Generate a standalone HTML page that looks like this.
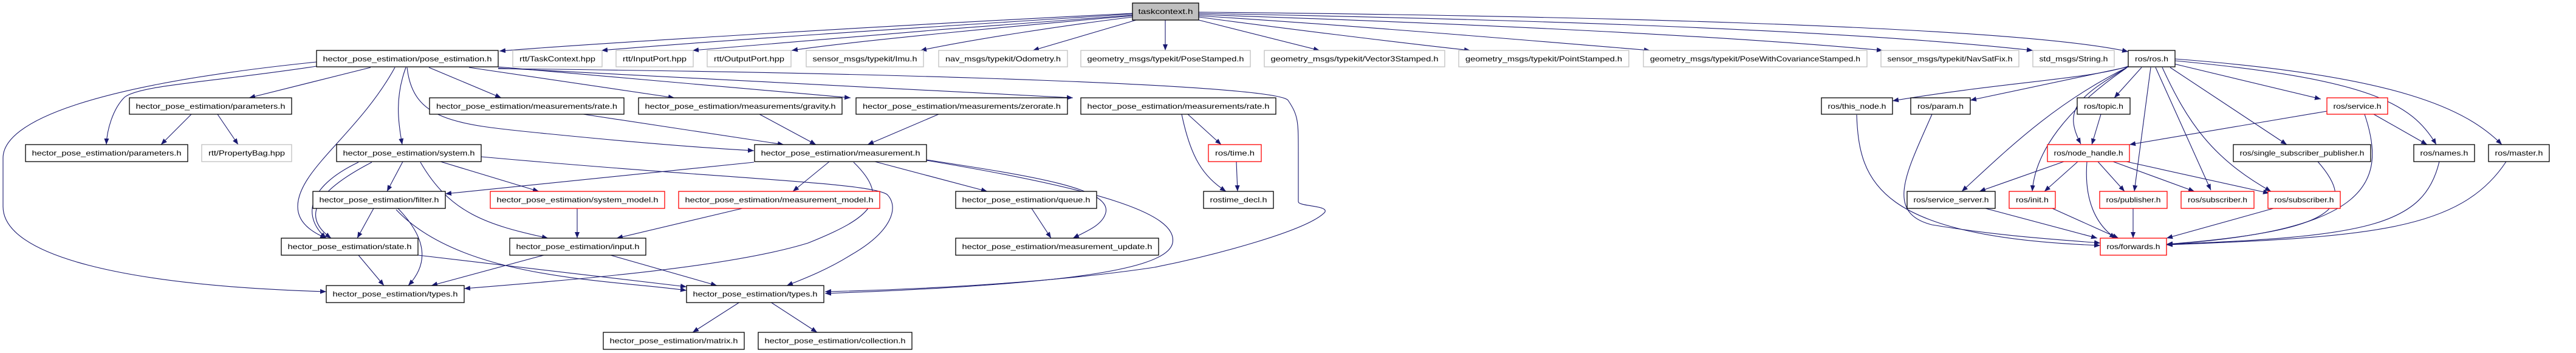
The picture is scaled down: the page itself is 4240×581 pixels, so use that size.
<!DOCTYPE html>
<html><head><meta charset="utf-8"><style>
html,body{margin:0;padding:0;background:#fff;width:4240px;height:581px;overflow:hidden}
svg{display:block}
text{font-family:"Liberation Sans",sans-serif;font-size:12px;fill:#000}
.n{fill:#fff;stroke:#000;stroke-width:1.3}
.g{fill:#fff;stroke:#c0c0c0;stroke-width:1.3}
.r{fill:#fff;stroke:#ff0000;stroke-width:1.3}
.e{fill:none;stroke:#191970;stroke-width:1.1;marker-end:url(#a)}
</style></head><body>
<svg width="4240" height="581" viewBox="0 0 4240 581" xmlns="http://www.w3.org/2000/svg">
<defs><marker id="a" markerUnits="userSpaceOnUse" markerWidth="10" markerHeight="8" refX="10" refY="4" orient="auto"><path d="M0,0 L10,4 L0,8 z" fill="#191970"/></marker></defs>
<g>
<!-- taskcontext edges -->
<path class="e" d="M1864,22 C1500,40 1000,70 822,84"/>
<path class="e" d="M1864,23 C1600,40 1200,65 990,83"/>
<path class="e" d="M1864,25 C1650,40 1300,68 1140,83"/>
<path class="e" d="M1864,26 C1700,40 1400,68 1303,83"/>
<path class="e" d="M1864,28 C1750,42 1600,65 1515,83"/>
<path class="e" d="M1870,33 L1700,83"/>
<path class="e" d="M1918,33 L1918,83"/>
<path class="e" d="M1973,33 L2172,83"/>
<path class="e" d="M1973,28 C2100,45 2300,70 2420,83"/>
<path class="e" d="M1973,26 C2200,40 2500,65 2716,83"/>
<path class="e" d="M1973,24 C2300,35 2800,55 3099,83"/>
<path class="e" d="M1973,22 C2400,30 3000,45 3346,83"/>
<path class="e" d="M1973,20 C2500,25 3300,40 3503,85"/>
<!-- pose_estimation edges -->
<path class="e" d="M610,111 L410,161"/>
<path class="e" d="M521,109 C350,135 230,140 205,160 C185,180 176,215 175,238"/>
<path class="e" d="M521,102 C150,140 5,200 5,260 L5,340 C5,420 200,470 537,480"/>
<path class="e" d="M650,111 C590,220 490,280 490,340 C490,370 520,385 537,392"/>
<path class="e" d="M668,111 C650,160 655,200 662,238"/>
<path class="e" d="M670,111 C680,200 750,205 900,220 C1050,235 1150,243 1241,248"/>
<path class="e" d="M706,111 L825,161"/>
<path class="e" d="M772,111 L1110,161"/>
<path class="e" d="M820,110 L1400,161"/>
<path class="e" d="M820,112 L1766,161"/>
<path class="e" d="M820,113 C1500,120 2100,140 2120,165 C2137,190 2137,200 2137,250 L2137,332 C2137,340 2190,338 2180,350 C2150,380 2000,420 1900,440 C1700,470 1450,478 1358,480"/>
<path class="e" d="M315,188 L265,238"/>
<path class="e" d="M358,188 L392,238"/>
<path class="e" d="M960,188 L1290,238"/>
<path class="e" d="M1250,188 L1343,238"/>
<path class="e" d="M1545,188 L1428,238"/>
<path class="e" d="M1955,188 L2010,238"/>
<path class="e" d="M1945,188 C1960,260 1980,290 2018,315"/>
<path class="e" d="M2035,266 L2037,315"/>
<!-- system -->
<path class="e" d="M663,266 L637,315"/>
<path class="e" d="M725,266 L887,315"/>
<path class="e" d="M692,267 C740,350 800,370 902,392"/>
<path class="e" d="M590,267 C500,310 500,360 537,392"/>
<path class="e" d="M612,267 C510,320 500,360 545,392"/>
<path class="e" d="M792,258 C1200,295 1430,300 1460,320 C1480,340 1470,380 1400,420 C1360,445 1320,460 1295,470"/>
<!-- measurement -->
<path class="e" d="M1241,267 L733,319"/>
<path class="e" d="M1365,266 L1305,315"/>
<path class="e" d="M1440,266 L1625,315"/>
<path class="e" d="M1525,263 C1700,290 1830,310 1820,350 C1815,370 1790,380 1766,392"/>
<path class="e" d="M1525,264 C1800,310 1940,350 1930,400 C1920,450 1700,470 1358,483"/>
<path class="e" d="M1405,267 C1470,330 1430,360 1330,400 C1200,440 950,460 764,475"/>
<path class="e" d="M1698,343 L1730,392"/>
<!-- filter etc -->
<path class="e" d="M615,343 L588,392"/>
<path class="e" d="M655,343 C710,400 700,440 672,470"/>
<path class="e" d="M652,345 C760,460 1000,460 1130,478"/>
<path class="e" d="M950,343 L950,392"/>
<path class="e" d="M1222,343 L1015,392"/>
<path class="e" d="M590,420 L632,470"/>
<path class="e" d="M688,420 L1130,472"/>
<path class="e" d="M895,420 L710,470"/>
<path class="e" d="M1005,420 L1180,470"/>
<path class="e" d="M1218,497 L1140,547"/>
<path class="e" d="M1268,497 L1345,547"/>
<!-- ros -->
<path class="e" d="M3503,109 C3440,130 3300,135 3115,166"/>
<path class="e" d="M3503,110 L3243,165"/>
<path class="e" d="M3525,111 L3480,161"/>
<path class="e" d="M3578,105 L3820,163"/>
<path class="e" d="M3501,111 C3420,160 3395,180 3425,237"/>
<path class="e" d="M3503,110 C3380,170 3300,250 3229,315"/>
<path class="e" d="M3500,112 C3400,180 3350,250 3345,315"/>
<path class="e" d="M3540,111 L3513,315"/>
<path class="e" d="M3548,111 L3639,313"/>
<path class="e" d="M3559,111 C3600,200 3640,260 3738,315"/>
<path class="e" d="M3572,111 L3764,238"/>
<path class="e" d="M3580,100 C3900,130 3970,170 4010,238"/>
<path class="e" d="M3580,97 C3950,125 4060,180 4118,238"/>
<path class="e" d="M3056,189 C3060,300 3090,390 3457,404"/>
<path class="e" d="M3180,188 C3140,280 3100,350 3180,370 C3300,390 3400,395 3457,400"/>
<path class="e" d="M3458,188 L3443,238"/>
<path class="e" d="M3830,183 L3505,238"/>
<path class="e" d="M3892,188 C3930,300 3900,380 3566,402"/>
<path class="e" d="M3907,188 L3995,238"/>
<path class="e" d="M3397,266 L3258,315"/>
<path class="e" d="M3420,266 L3365,315"/>
<path class="e" d="M3435,266 C3430,330 3450,370 3482,392"/>
<path class="e" d="M3453,266 L3497,315"/>
<path class="e" d="M3478,266 L3612,315"/>
<path class="e" d="M3500,266 L3735,318"/>
<path class="e" d="M3268,343 L3452,392"/>
<path class="e" d="M3378,343 L3487,392"/>
<path class="e" d="M3511,343 L3511,392"/>
<path class="e" d="M3742,343 L3566,392"/>
<path class="e" d="M3815,266 C3880,340 3850,380 3566,402"/>
<path class="e" d="M4015,266 C3990,370 3900,390 3566,402"/>
<path class="e" d="M4125,266 C4050,380 3900,390 3566,403"/>
</g>
<!-- nodes -->
<rect x="1864" y="5" width="109" height="28" fill="#bfbfbf" stroke="#000" stroke-width="1.3"/><text x="1918.5" y="23" text-anchor="middle" textLength="90" lengthAdjust="spacingAndGlyphs">taskcontext.h</text>

<rect class="n" x="521" y="83" width="299" height="27"/><text x="670.5" y="101" text-anchor="middle" textLength="278" lengthAdjust="spacingAndGlyphs">hector_pose_estimation/pose_estimation.h</text>
<rect class="g" x="844" y="83" width="147" height="27"/><text x="917.5" y="101" text-anchor="middle" textLength="125" lengthAdjust="spacingAndGlyphs">rtt/TaskContext.hpp</text>
<rect class="g" x="1014" y="83" width="127" height="27"/><text x="1077.5" y="101" text-anchor="middle" textLength="105" lengthAdjust="spacingAndGlyphs">rtt/InputPort.hpp</text>
<rect class="g" x="1164" y="83" width="138" height="27"/><text x="1233" y="101" text-anchor="middle" textLength="116" lengthAdjust="spacingAndGlyphs">rtt/OutputPort.hpp</text>
<rect class="g" x="1327" y="83" width="193" height="27"/><text x="1423.5" y="101" text-anchor="middle" textLength="172" lengthAdjust="spacingAndGlyphs">sensor_msgs/typekit/Imu.h</text>
<rect class="g" x="1545" y="83" width="212" height="27"/><text x="1651" y="101" text-anchor="middle" textLength="190" lengthAdjust="spacingAndGlyphs">nav_msgs/typekit/Odometry.h</text>
<rect class="g" x="1779" y="83" width="279" height="27"/><text x="1918.5" y="101" text-anchor="middle" textLength="258" lengthAdjust="spacingAndGlyphs">geometry_msgs/typekit/PoseStamped.h</text>
<rect class="g" x="2081" y="83" width="297" height="27"/><text x="2229.5" y="101" text-anchor="middle" textLength="276" lengthAdjust="spacingAndGlyphs">geometry_msgs/typekit/Vector3Stamped.h</text>
<rect class="g" x="2401" y="83" width="280" height="27"/><text x="2541" y="101" text-anchor="middle" textLength="258" lengthAdjust="spacingAndGlyphs">geometry_msgs/typekit/PointStamped.h</text>
<rect class="g" x="2705" y="83" width="368" height="27"/><text x="2889" y="101" text-anchor="middle" textLength="346" lengthAdjust="spacingAndGlyphs">geometry_msgs/typekit/PoseWithCovarianceStamped.h</text>
<rect class="g" x="3096" y="83" width="227" height="27"/><text x="3209.5" y="101" text-anchor="middle" textLength="206" lengthAdjust="spacingAndGlyphs">sensor_msgs/typekit/NavSatFix.h</text>
<rect class="g" x="3346" y="83" width="134" height="27"/><text x="3413" y="101" text-anchor="middle" textLength="113" lengthAdjust="spacingAndGlyphs">std_msgs/String.h</text>
<rect class="n" x="3503" y="83" width="77" height="27"/><text x="3541.5" y="101" text-anchor="middle" textLength="55" lengthAdjust="spacingAndGlyphs">ros/ros.h</text>

<rect class="n" x="213" y="161" width="267" height="27"/><text x="346.5" y="179" text-anchor="middle" textLength="246" lengthAdjust="spacingAndGlyphs">hector_pose_estimation/parameters.h</text>
<rect class="n" x="707" y="161" width="320" height="27"/><text x="867" y="179" text-anchor="middle" textLength="298" lengthAdjust="spacingAndGlyphs">hector_pose_estimation/measurements/rate.h</text>
<rect class="n" x="1051" y="161" width="335" height="27"/><text x="1218.5" y="179" text-anchor="middle" textLength="314" lengthAdjust="spacingAndGlyphs">hector_pose_estimation/measurements/gravity.h</text>
<rect class="n" x="1409" y="161" width="348" height="27"/><text x="1583" y="179" text-anchor="middle" textLength="326" lengthAdjust="spacingAndGlyphs">hector_pose_estimation/measurements/zerorate.h</text>
<rect class="n" x="1779" y="161" width="321" height="27"/><text x="1939.5" y="179" text-anchor="middle" textLength="300" lengthAdjust="spacingAndGlyphs">hector_pose_estimation/measurements/rate.h</text>
<rect class="n" x="2998" y="161" width="117" height="27"/><text x="3056.5" y="179" text-anchor="middle" textLength="96" lengthAdjust="spacingAndGlyphs">ros/this_node.h</text>
<rect class="n" x="3145" y="161" width="98" height="27"/><text x="3194" y="179" text-anchor="middle" textLength="76" lengthAdjust="spacingAndGlyphs">ros/param.h</text>
<rect class="n" x="3419" y="161" width="87" height="27"/><text x="3462.5" y="179" text-anchor="middle" textLength="65" lengthAdjust="spacingAndGlyphs">ros/topic.h</text>
<rect class="r" x="3830" y="161" width="100" height="27"/><text x="3880" y="179" text-anchor="middle" textLength="79" lengthAdjust="spacingAndGlyphs">ros/service.h</text>

<rect class="n" x="42" y="238" width="267" height="28"/><text x="175.5" y="256" text-anchor="middle" textLength="246" lengthAdjust="spacingAndGlyphs">hector_pose_estimation/parameters.h</text>
<rect class="g" x="332" y="238" width="148" height="28"/><text x="406" y="256" text-anchor="middle" textLength="126" lengthAdjust="spacingAndGlyphs">rtt/PropertyBag.hpp</text>
<rect class="n" x="554" y="238" width="238" height="28"/><text x="673" y="256" text-anchor="middle" textLength="217" lengthAdjust="spacingAndGlyphs">hector_pose_estimation/system.h</text>
<rect class="n" x="1242" y="238" width="283" height="28"/><text x="1383.5" y="256" text-anchor="middle" textLength="262" lengthAdjust="spacingAndGlyphs">hector_pose_estimation/measurement.h</text>
<rect class="r" x="1989" y="238" width="87" height="28"/><text x="2032.5" y="256" text-anchor="middle" textLength="65" lengthAdjust="spacingAndGlyphs">ros/time.h</text>
<rect class="r" x="3370" y="238" width="135" height="28"/><text x="3437.5" y="256" text-anchor="middle" textLength="114" lengthAdjust="spacingAndGlyphs">ros/node_handle.h</text>
<rect class="n" x="3676" y="238" width="226" height="28"/><text x="3789" y="256" text-anchor="middle" textLength="205" lengthAdjust="spacingAndGlyphs">ros/single_subscriber_publisher.h</text>
<rect class="n" x="3973" y="238" width="100" height="28"/><text x="4023" y="256" text-anchor="middle" textLength="79" lengthAdjust="spacingAndGlyphs">ros/names.h</text>
<rect class="n" x="4096" y="238" width="100" height="28"/><text x="4146" y="256" text-anchor="middle" textLength="79" lengthAdjust="spacingAndGlyphs">ros/master.h</text>

<rect class="n" x="515" y="315" width="218" height="28"/><text x="624" y="333" text-anchor="middle" textLength="197" lengthAdjust="spacingAndGlyphs">hector_pose_estimation/filter.h</text>
<rect class="r" x="807" y="315" width="287" height="28"/><text x="950.5" y="333" text-anchor="middle" textLength="266" lengthAdjust="spacingAndGlyphs">hector_pose_estimation/system_model.h</text>
<rect class="r" x="1117" y="315" width="331" height="28"/><text x="1282.5" y="333" text-anchor="middle" textLength="310" lengthAdjust="spacingAndGlyphs">hector_pose_estimation/measurement_model.h</text>
<rect class="n" x="1573" y="315" width="232" height="28"/><text x="1689" y="333" text-anchor="middle" textLength="211" lengthAdjust="spacingAndGlyphs">hector_pose_estimation/queue.h</text>
<rect class="n" x="1981" y="315" width="115" height="28"/><text x="2038.5" y="333" text-anchor="middle" textLength="94" lengthAdjust="spacingAndGlyphs">rostime_decl.h</text>
<rect class="n" x="3139" y="315" width="145" height="28"/><text x="3211.5" y="333" text-anchor="middle" textLength="124" lengthAdjust="spacingAndGlyphs">ros/service_server.h</text>
<rect class="r" x="3307" y="315" width="76" height="28"/><text x="3345" y="333" text-anchor="middle" textLength="54" lengthAdjust="spacingAndGlyphs">ros/init.h</text>
<rect class="r" x="3456" y="315" width="111" height="28"/><text x="3511.5" y="333" text-anchor="middle" textLength="90" lengthAdjust="spacingAndGlyphs">ros/publisher.h</text>
<rect class="r" x="3590" y="315" width="120" height="28"/><text x="3650" y="333" text-anchor="middle" textLength="98" lengthAdjust="spacingAndGlyphs">ros/subscriber.h</text>
<rect class="r" x="3733" y="315" width="119" height="28"/><text x="3792.5" y="333" text-anchor="middle" textLength="98" lengthAdjust="spacingAndGlyphs">ros/subscriber.h</text>

<rect class="n" x="463" y="392" width="225" height="28"/><text x="575.5" y="410" text-anchor="middle" textLength="204" lengthAdjust="spacingAndGlyphs">hector_pose_estimation/state.h</text>
<rect class="n" x="839" y="392" width="224" height="28"/><text x="951" y="410" text-anchor="middle" textLength="203" lengthAdjust="spacingAndGlyphs">hector_pose_estimation/input.h</text>
<rect class="n" x="1573" y="392" width="334" height="28"/><text x="1740" y="410" text-anchor="middle" textLength="313" lengthAdjust="spacingAndGlyphs">hector_pose_estimation/measurement_update.h</text>
<rect class="r" x="3457" y="392" width="109" height="28"/><text x="3511.5" y="410" text-anchor="middle" textLength="88" lengthAdjust="spacingAndGlyphs">ros/forwards.h</text>

<rect class="n" x="537" y="470" width="227" height="28"/><text x="650.5" y="488" text-anchor="middle" textLength="206" lengthAdjust="spacingAndGlyphs">hector_pose_estimation/types.h</text>
<rect class="n" x="1130" y="470" width="226" height="28"/><text x="1243" y="488" text-anchor="middle" textLength="205" lengthAdjust="spacingAndGlyphs">hector_pose_estimation/types.h</text>

<rect class="n" x="993" y="547" width="232" height="28"/><text x="1109" y="565" text-anchor="middle" textLength="211" lengthAdjust="spacingAndGlyphs">hector_pose_estimation/matrix.h</text>
<rect class="n" x="1248" y="547" width="253" height="28"/><text x="1374.5" y="565" text-anchor="middle" textLength="232" lengthAdjust="spacingAndGlyphs">hector_pose_estimation/collection.h</text>
</svg>
</body></html>
